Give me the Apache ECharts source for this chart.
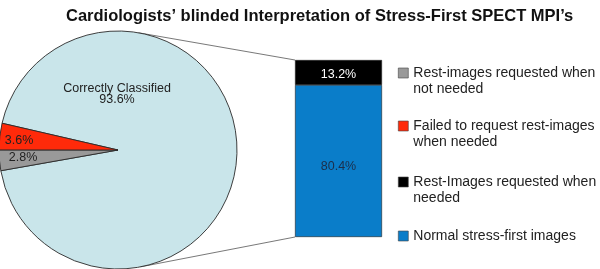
<!DOCTYPE html>
<html>
<head>
<meta charset="utf-8">
<script src="https://cdn.jsdelivr.net/npm/echarts@6/dist/echarts.min.js"></script>
<style>html,body{margin:0;padding:0;background:#fff}#c{width:600px;height:269px}</style>
</head>
<body>
<div id="c"></div>
<script>
var titleText = 'Cardiologists\u2019 blinded Interpretation of Stress-First SPECT MPI\u2019s';
var pieNames = ['Correctly Classified', 'Rest-images requested when not needed', 'Failed to request rest-images when needed'];
var pieValues = [93.6, 2.8, 3.6];
var pieColors = ['#c9e5ea', '#999999', '#ff2a0a'];
var barNames = ['Normal stress-first images', 'Rest-Images requested when needed'];
var barValues = [80.4, 13.2];
var barColors = ['#0a7dc9', '#000000'];
var legendOrder = ['Rest-images requested when not needed', 'Failed to request rest-images when needed', 'Rest-Images requested when needed', 'Normal stress-first images'];
var legendLabels = ['Rest-images requested when\nnot needed', 'Failed to request rest-images\nwhen needed', 'Rest-Images requested when\nneeded', 'Normal stress-first images'];

var FONT = 'Liberation Sans, Arial, sans-serif';
var PC = [118, 150], PR = 119;
var G = {left: 295, top: 60, width: 87, height: 177};
var total = barValues.reduce(function (a, b) { return a + b; }, 0);

function tangent(px, py, upper) {
  var dx = px - PC[0], dy = py - PC[1];
  var d = Math.sqrt(dx * dx + dy * dy);
  var a = Math.atan2(dy, dx);
  var b = Math.acos(PR / d);
  var t = upper ? a - b : a + b;
  return [PC[0] + PR * Math.cos(t), PC[1] + PR * Math.sin(t)];
}
var tU = tangent(G.left, G.top, true);
var tL = tangent(G.left, G.top + G.height, false);

var pieLabelPos = [[117, 94], [23, 158], [19, 141]];

var LH = 16;
var legendTops = [68, 121, 177, 231];
var legends = legendOrder.map(function (n, i) {
  var twoLine = legendLabels[i].indexOf('\n') >= 0;
  return {
    data: [n], left: 398, top: legendTops[i] - (twoLine ? 19 : 3), padding: 0,
    orient: 'vertical', icon: 'rect', itemWidth: 10, itemHeight: 10,
    itemStyle: {borderColor: '#444', borderWidth: 0.6},
    formatter: function () { return twoLine ? ' \n' + legendLabels[i] : legendLabels[i]; },
    textStyle: {fontFamily: FONT, fontSize: 14, color: '#222', lineHeight: LH},
    selectedMode: false
  };
});

var option = {
  animation: false,
  title: {text: titleText, left: 61, top: 3,
    textStyle: {fontFamily: FONT, fontWeight: 'bold', fontSize: 16.5, color: '#111'}},
  legend: legends,
  grid: {left: G.left, top: G.top, width: G.width, height: G.height},
  xAxis: {type: 'category', data: [''], show: false},
  yAxis: {type: 'value', min: 0, max: total, show: false},
  series: [
    {
      type: 'pie', center: PC, radius: PR, startAngle: 167, clockwise: true,
      silent: true,
      itemStyle: {borderColor: '#2a2a2a', borderWidth: 0.9},
      label: {show: true, position: 'inside', fontFamily: FONT, fontSize: 12.5, color: '#222', lineHeight: 11,
        formatter: function (p) { return p.dataIndex === 0 ? p.name + '\n' + p.value + '%' : p.value + '%'; }},
      labelLayout: function (p) {
        var q = pieLabelPos[p.dataIndex];
        return {x: q[0], y: q[1], align: 'center', verticalAlign: 'middle'};
      },
      labelLine: {show: false},
      data: pieNames.map(function (n, i) { return {name: n, value: pieValues[i], itemStyle: {color: pieColors[i]}}; })
    }
  ].concat(barNames.map(function (n, i) {
    return {
      type: 'bar', name: n, stack: 's', barWidth: '100%', silent: true,
      data: [barValues[i]],
      itemStyle: {color: barColors[i], borderColor: '#222', borderWidth: 0.6},
      label: {show: true, position: 'inside', fontFamily: FONT, fontSize: 12.5,
        color: i === 1 ? '#fff' : '#1c2e4a', formatter: '{c}%', offset: i === 0 ? [0, 6] : [0, 2]}
    };
  })),
  graphic: [
    {type: 'line', shape: {x1: tU[0], y1: tU[1], x2: G.left, y2: G.top}, style: {stroke: '#555', lineWidth: 0.8}, z: 0},
    {type: 'line', shape: {x1: tL[0], y1: tL[1], x2: G.left, y2: G.top + G.height}, style: {stroke: '#555', lineWidth: 0.8}, z: 0}
  ]
};
var chart = echarts.init(document.getElementById('c'));
chart.setOption(option);
</script>
</body>
</html>
